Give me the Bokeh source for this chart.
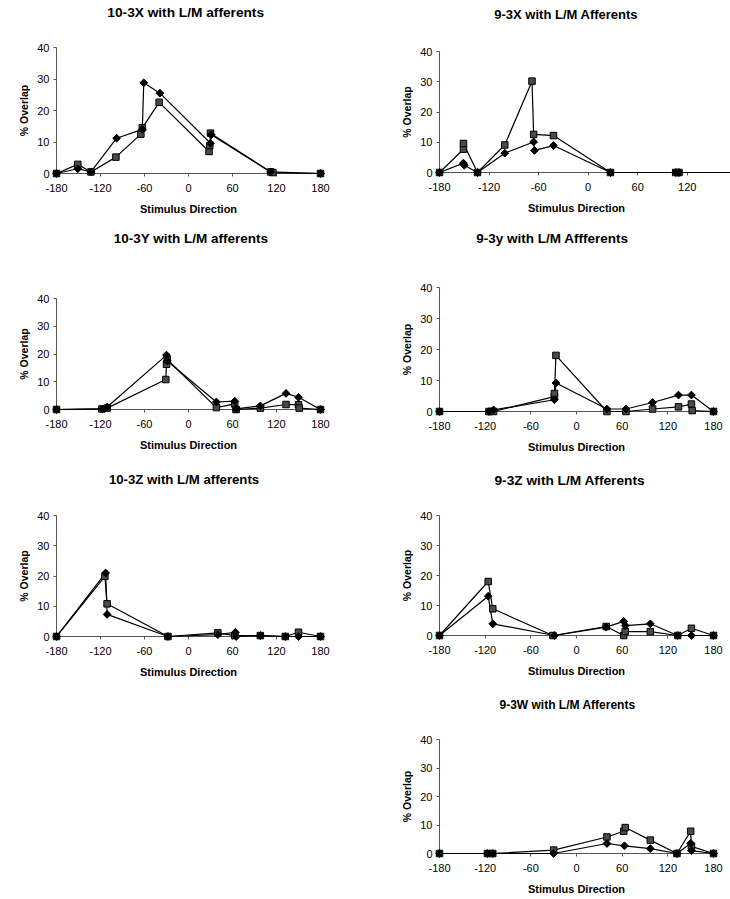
import math
from bokeh.plotting import figure
from bokeh.layouts import row, column
from bokeh.models import Range1d, FixedTicker
from bokeh.core.properties import value
from bokeh.embed import file_html
from bokeh.resources import INLINE

# ---------------- data ----------------
titles = ["10-3X with L/M afferents", "9-3X  with L/M Afferents",
          "10-3Y with L/M afferents", "9-3y with L/M Affferents",
          "10-3Z with L/M afferents", "9-3Z with L/M Afferents",
          "9-3W with L/M Afferents"]
x_ticks = [-180, -120, -60, 0, 60, 120, 180]
x_tick_labels = ["-180", "-120", "-60", "0", "60", "120", "180"]
y_ticks = [0, 10, 20, 30, 40]
x_title = "Stimulus Direction"
y_title = "% Overlap"

p1_dia_x = [-180, -151, -133, -98, -63, -61, -39, 30, 31, 112, 180]
p1_dia_y = [0, 1.5, 0.5, 11.2, 14.0, 28.8, 25.5, 9.6, 12.3, 0.5, 0]
p1_sq_x = [-180, -151, -133, -99, -65, -63, -40, 28, 29, 30, 112, 115, 180]
p1_sq_y = [0, 2.9, 0.5, 5.2, 12.5, 14.5, 22.6, 7.0, 8.9, 12.8, 0.5, 0.3, 0]

p2_dia_x = [-180, -151, -150, -134, -101, -66, -65, -42, 27, 106, 110, 180]
p2_dia_y = [0, 3.1, 2.4, 0, 6.4, 10.1, 7.3, 8.9, 0, 0, 0, 0]
p2_sq_x = [-180, -151, -151, -134, -101, -68, -66, -42, 27, 106, 110, 180]
p2_sq_y = [0, 7.7, 9.6, 0, 9.1, 30.2, 12.6, 12.2, 0, 0, 0, 0]

p3_dia_x = [-180, -117, -111, -30, -29, 38, 63, 65, 98, 133, 150, 180]
p3_dia_y = [0, 0.2, 0.9, 19.6, 17.5, 2.7, 3.0, 0.2, 1.3, 5.8, 4.4, 0]
p3_sq_x = [-180, -118, -111, -31, -30, -29, 38, 63, 65, 98, 133, 150, 151, 180]
p3_sq_y = [0, 0.2, 0.5, 10.8, 16.3, 18.0, 0.7, 2.0, 0, 0.5, 1.8, 1.7, 0.5, 0]

p4_dia_x = [-180, -115, -109, -29, -27, 40, 65, 100, 134, 151, 180]
p4_dia_y = [0, 0, 0.5, 3.8, 9.2, 0.8, 0.8, 2.9, 5.3, 5.3, 0]
p4_sq_x = [-180, -115, -109, -29, -29, -27, 40, 65, 100, 134, 151, 152, 180]
p4_sq_y = [0, 0, 0, 4.8, 5.8, 18.1, 0, 0, 0.8, 1.5, 2.4, 0.3, 0]

p5_dia_x = [-180, -113, -111, -28, 40, 64, 65, 98, 132, 150, 180]
p5_dia_y = [0, 21.0, 7.3, 0, 0.6, 1.4, 0, 0.3, 0, 0, 0]
p5_sq_x = [-180, -114, -111, -28, 40, 63, 98, 132, 150, 180]
p5_sq_y = [0, 19.9, 10.8, 0, 1.2, 0.3, 0.3, 0, 1.4, 0]

p6_dia_x = [-180, -116, -110, -29, 39, 62, 64, 97, 133, 151, 180]
p6_dia_y = [0, 13.1, 3.9, 0, 2.8, 4.7, 3.3, 3.9, 0, 0, 0]
p6_sq_x = [-180, -116, -110, -31, 39, 62, 64, 97, 133, 151, 180]
p6_sq_y = [0, 18.0, 8.9, 0, 3.0, 0, 1.3, 1.3, 0, 2.4, 0]

p7_dia_x = [-180, -117, -110, -30, 40, 63, 97, 132, 150, 151, 180]
p7_dia_y = [0, 0, 0, 0, 3.5, 2.7, 1.7, 0, 3.6, 1.0, 0]
p7_sq_x = [-180, -117, -110, -30, 40, 62, 64, 97, 132, 150, 151, 180]
p7_sq_y = [0, 0, 0, 1.2, 5.8, 7.8, 9.1, 4.7, 0, 7.8, 2.5, 0]

series = [
    (p1_dia_x, p1_dia_y, p1_sq_x, p1_sq_y),
    (p2_dia_x, p2_dia_y, p2_sq_x, p2_sq_y),
    (p3_dia_x, p3_dia_y, p3_sq_x, p3_sq_y),
    (p4_dia_x, p4_dia_y, p4_sq_x, p4_sq_y),
    (p5_dia_x, p5_dia_y, p5_sq_x, p5_sq_y),
    (p6_dia_x, p6_dia_y, p6_sq_x, p6_sq_y),
    (p7_dia_x, p7_dia_y, p7_sq_x, p7_sq_y),
]

# ---------------- layout (page pixel geometry, origin at page corner) ----------------
# col_left, fig_top, fig_w, fig_h, px(-180), px(180), py(0), py(40),
# title_left, title_cy, title_size, min right border
geom = [
    (0,   0,   365, 222, 56.0,  326.0, 173.0, 47.0,  108, 12,  "13.7px", 0),
    (365, 0,   365, 222, 439.0, 737.4, 172.0, 51.0,  494, 14,  "13px",   16),
    (0,   222, 365, 236, 43.0,  320.0, 409.0, 298.0, 103, 238, "13.5px", 0),
    (365, 222, 365, 236, 437.0, 713.0, 411.0, 287.0, 474, 238, "13.5px", 0),
    (0,   458, 365, 232, 51.0,  333.0, 636.0, 515.0, 107, 479, "13.2px", 0),
    (365, 458, 365, 224, 435.0, 714.0, 635.0, 515.0, 491, 480, "13.7px", 0),
    (365, 682, 365, 217, 433.0, 716.0, 853.0, 739.0, 495, 704, "12px",   0),
]

FONT = "Liberation Sans"


def make_panel(i):
    col_left, top, fw, fh, a, b, c, d, tleft, tcy, tsize, rmin = geom[i]
    k = (b - a) / 360.0
    m = (c - d) / 40.0
    FL = round(a)
    FR = min(round(b), col_left + fw - rmin)
    FT = round(d)
    FB = round(c)
    x1 = -180.0 + (FR - FL) / k

    p = figure(width=fw, height=fh, output_backend="svg", toolbar_location=None,
               x_range=Range1d(-180.0, x1), y_range=Range1d(0.0, 40.0),
               min_border_left=int(FL - col_left),
               min_border_right=int(col_left + fw - FR),
               min_border_top=int(FT - top),
               min_border_bottom=int(top + fh - FB))
    p.outline_line_color = None
    p.xgrid.grid_line_color = None
    p.ygrid.grid_line_color = None
    p.background_fill_color = "white"
    p.border_fill_color = "white"
    p.title.text = ""

    # chart title: pixel layout position converted to data units (drawn above the frame)
    p.text(x=[-180 + (tleft - a) / k], y=[40 + (d - tcy) / m], text=[titles[i]],
           text_align="left", text_baseline="middle",
           text_font=value(FONT), text_font_size=value(tsize),
           text_font_style="bold", text_color="black", level="overlay")

    xa = p.xaxis[0]
    ya = p.yaxis[0]
    xa.ticker = FixedTicker(ticks=x_ticks)
    xa.major_label_overrides = {t: s for t, s in zip(x_ticks, x_tick_labels)}
    ya.ticker = FixedTicker(ticks=y_ticks)
    for ax in (xa, ya):
        ax.axis_line_color = "#555555"
        ax.axis_line_width = 1
        ax.major_tick_line_color = "#555555"
        ax.major_tick_out = 3
        ax.major_tick_in = 0
        ax.minor_tick_line_color = None
        ax.major_label_text_font = FONT
        ax.major_label_text_font_size = "11px"
        ax.major_label_text_color = "black"
        ax.axis_label_text_font = FONT
        ax.axis_label_text_font_style = "bold"
        ax.axis_label_text_color = "black"
    xa.axis_label = x_title
    xa.axis_label_text_font_size = "11px"
    xa.major_label_standoff = 7
    xa.axis_label_standoff = 8
    ya.axis_label = y_title
    ya.axis_label_text_font_size = "10.5px"
    ya.major_label_standoff = 4
    ya.axis_label_standoff = 4

    dx, dy, sx, sy = series[i]
    p.line(sx, sy, line_color="black", line_width=1.2, level="overlay")
    p.line(dx, dy, line_color="black", line_width=1.2, level="overlay")
    p.scatter(sx, sy, marker="square", size=6.5, fill_color="#4a4a4a",
              line_color="black", line_width=1, level="overlay")
    p.scatter(dx, dy, marker="square", angle=math.pi / 4, size=5.5,
              fill_color="black", line_color="black", line_width=1,
              level="overlay")
    return p


panels = [make_panel(i) for i in range(7)]
left_col = column(panels[0], panels[2], panels[4], spacing=0)
right_col = column(panels[1], panels[3], panels[5], panels[6], spacing=0)
layout = row(left_col, right_col, spacing=0)

open("out.html", "w").write(file_html(layout, INLINE))
